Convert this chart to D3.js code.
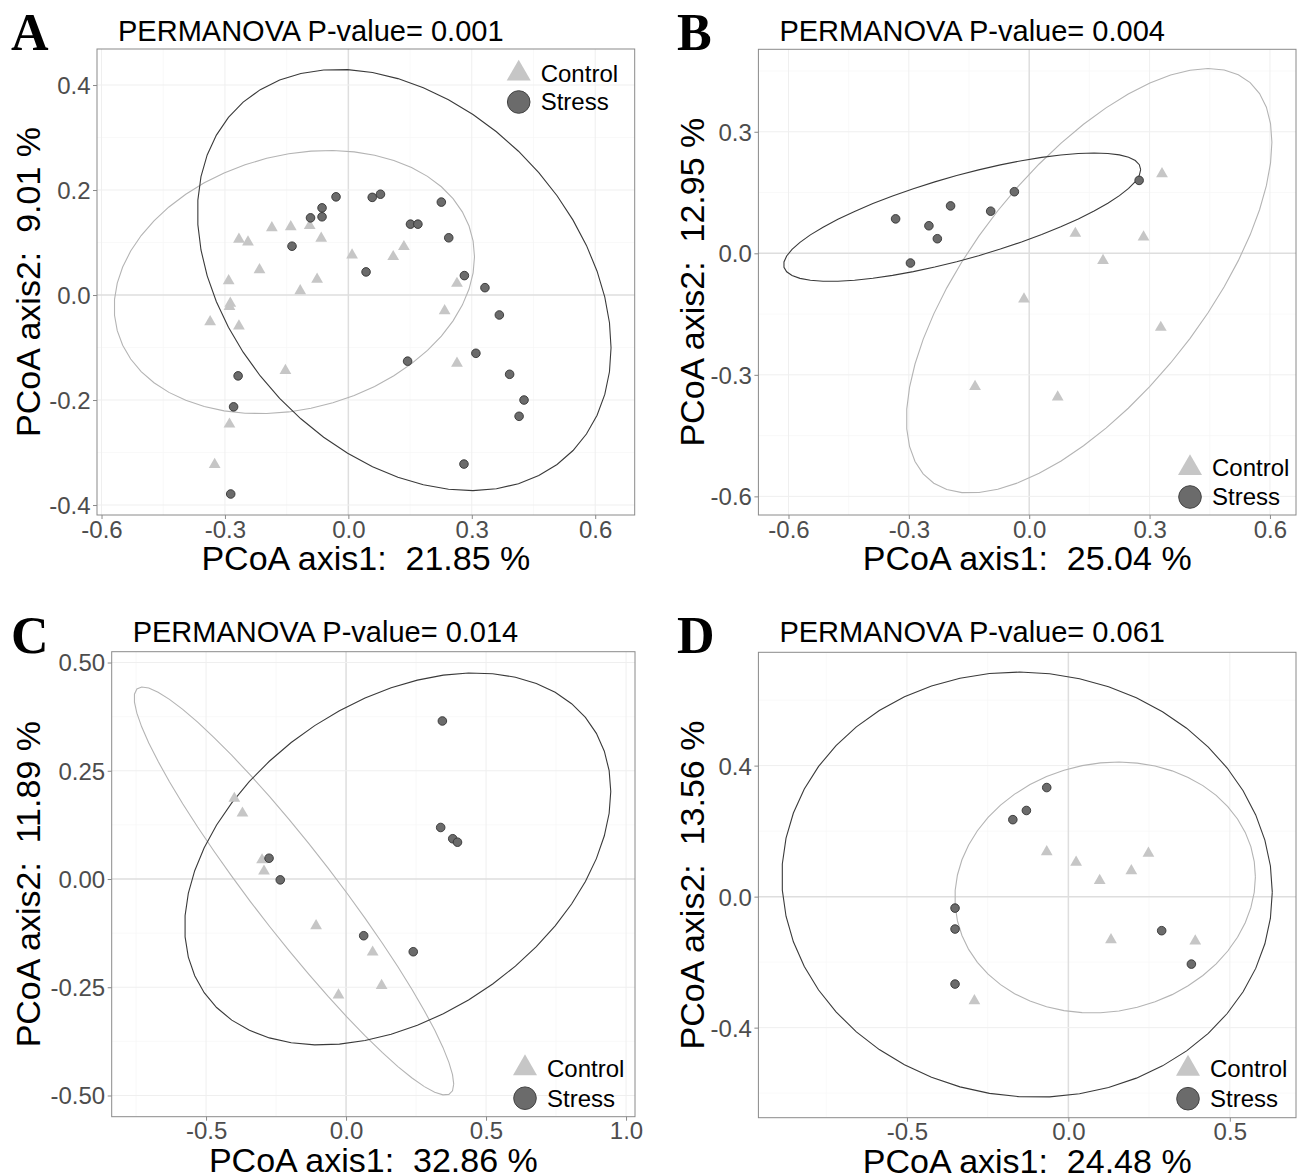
<!DOCTYPE html>
<html>
<head>
<meta charset="utf-8">
<script src="https://cdn.jsdelivr.net/npm/d3@7"></script>
<style>
    body { margin: 0; background: #fff; }
    svg { display: block; font-family: "Liberation Sans", Arial, sans-serif; }
    text { white-space: pre; }
</style>
</head>
<body>
<svg id="chart" width="1299" height="1176"></svg>
<script>
// PCoA coordinates: [axis1, axis2]
const controlA = [[-0.186, 0.128], [-0.140, 0.130], [-0.094, 0.132], [-0.066, 0.108], [-0.266, 0.106],
    [-0.244, 0.101], [0.009, 0.076], [-0.216, 0.048], [-0.291, 0.027], [-0.076, 0.030], [-0.117, 0.008],
    [-0.287, -0.016], [-0.289, -0.022], [-0.336, -0.051], [-0.266, -0.059], [-0.153, -0.144],
    [-0.289, -0.246], [-0.325, -0.323], [0.135, 0.092], [0.109, 0.073], [0.264, 0.022],
    [0.234, -0.030], [0.264, -0.130]];
const stressA = [[-0.030, 0.187], [-0.064, 0.166], [-0.064, 0.149], [-0.092, 0.147], [-0.137, 0.093],
    [0.043, 0.044], [-0.268, -0.154], [-0.279, -0.213], [-0.286, -0.379], [0.058, 0.186], [0.078, 0.192],
    [0.226, 0.177], [0.151, 0.135], [0.169, 0.135], [0.244, 0.109], [0.282, 0.037], [0.332, 0.014],
    [0.367, -0.038], [0.310, -0.111], [0.144, -0.126], [0.392, -0.151], [0.427, -0.200],
    [0.415, -0.231], [0.281, -0.322]];

const controlB = [[0.331, 0.196], [0.115, 0.049], [0.285, 0.040], [0.184, -0.018], [-0.013, -0.113],
    [0.328, -0.183], [-0.135, -0.329], [0.071, -0.355]];
const stressB = [[-0.333, 0.085], [-0.250, 0.068], [-0.229, 0.036], [-0.196, 0.117], [-0.296, -0.024],
    [-0.096, 0.104], [-0.037, 0.152], [0.274, 0.180]];

const controlC = [[-0.399, 0.186], [-0.370, 0.152], [-0.300, 0.044], [-0.293, 0.018], [-0.107, -0.108],
    [-0.027, -0.268], [0.095, -0.169], [0.127, -0.246]];
const stressC = [[-0.275, 0.048], [-0.235, -0.002], [0.063, -0.131], [0.240, -0.168], [0.344, 0.365],
    [0.338, 0.119], [0.381, 0.093], [0.398, 0.085]];

const controlD = [[-0.067, 0.137], [0.024, 0.105], [0.097, 0.049], [0.195, 0.079], [0.248, 0.132],
    [0.132, -0.132], [0.393, -0.136], [-0.291, -0.318]];
const stressD = [[-0.067, 0.333], [-0.130, 0.263], [-0.172, 0.235], [-0.351, -0.035], [-0.351, -0.099],
    [-0.351, -0.267], [0.289, -0.104], [0.381, -0.206]];

const pValues = ['0.001', '0.004', '0.014', '0.061'];
const axis1Pct = ['21.85', '25.04', '32.86', '24.48'];
const axis2Pct = ['9.01', '12.95', '11.89', '13.56'];
const groups = ['Control', 'Stress'];

// axis ranges and breaks
const xDomains = [[-0.611, 0.696], [-0.675, 0.665], [-0.837, 1.032], [-0.960, 0.705]];
const yDomains = [[-0.419, 0.4686], [-0.646, 0.5036], [-0.549, 0.525], [-0.675, 0.746]];
const xTicks = [[-0.6, -0.3, 0, 0.3, 0.6], [-0.6, -0.3, 0, 0.3, 0.6], [-0.5, 0, 0.5, 1.0], [-0.5, 0, 0.5]];
const yTicks = [[-0.4, -0.2, 0, 0.2, 0.4], [-0.6, -0.3, 0, 0.3], [-0.5, -0.25, 0, 0.25, 0.5], [-0.4, 0, 0.4]];
const xTickLabels = [['-0.6', '-0.3', '0.0', '0.3', '0.6'], ['-0.6', '-0.3', '0.0', '0.3', '0.6'],
    ['-0.5', '0.0', '0.5', '1.0'], ['-0.5', '0.0', '0.5']];
const yTickLabels = [['-0.4', '-0.2', '0.0', '0.2', '0.4'], ['-0.6', '-0.3', '0.0', '0.3'],
    ['-0.50', '-0.25', '0.00', '0.25', '0.50'], ['-0.4', '0.0', '0.4']];

// panel boxes in pixels
const panels = [
    { letter: 'A', control: controlA, stress: stressA, left: 97, right: 634.7, top: 49, bottom: 515,
      letterX: 11, titleY: 41, yTitleX: 40, legend: { dx: -116, rows: [24.5, 53], fromTop: true } },
    { letter: 'B', control: controlB, stress: stressB, left: 758.4, right: 1296, top: 49.3, bottom: 515,
      letterX: 677, titleY: 41, yTitleX: 704, legend: { dx: -106, rows: [-47, -18], fromTop: false } },
    { letter: 'C', control: controlC, stress: stressC, left: 111.7, right: 635, top: 651.7, bottom: 1116.7,
      letterX: 11, titleY: 642, yTitleX: 40, legend: { dx: -110, rows: [-48.5, -18.5], fromTop: false } },
    { letter: 'D', control: controlD, stress: stressD, left: 758.4, right: 1296, top: 652.3, bottom: 1117.7,
      letterX: 677, titleY: 642, yTitleX: 704, legend: { dx: -108, rows: [-49, -19], fromTop: false } }
];

const controlFill = '#c6c6c6';
const stressFill = '#6b6b6b';

// t-distribution robust covariance, same as MASS::cov.trob
function covTrob(pts, nu = 5, maxit = 25, tol = 0.01) {
    const n = pts.length;
    let loc = [d3.mean(pts, d => d[0]), d3.mean(pts, d => d[1])];
    let w = pts.map(() => 1);
    let X = [];
    for (let iter = 0; iter < maxit; iter++) {
        const w0 = w.slice();
        X = pts.map(d => [d[0] - loc[0], d[1] - loc[1]]);
        const sw = d3.sum(w);
        let a = 0, b = 0, c = 0;
        X.forEach((v, i) => {
            a += w[i] / sw * v[0] * v[0];
            b += w[i] / sw * v[0] * v[1];
            c += w[i] / sw * v[1] * v[1];
        });
        const det = a * c - b * b;
        const Q = X.map(v => (c * v[0] * v[0] - 2 * b * v[0] * v[1] + a * v[1] * v[1]) / det);
        w = Q.map(q => (nu + 2) / (nu + q));
        const sw2 = d3.sum(w);
        loc = [d3.sum(pts, (d, i) => w[i] * d[0]) / sw2, d3.sum(pts, (d, i) => w[i] * d[1]) / sw2];
        if (w.every((v, i) => Math.abs(v - w0[i]) < tol)) break;
    }
    let a = 0, b = 0, c = 0;
    X.forEach((v, i) => {
        a += w[i] * v[0] * v[0];
        b += w[i] * v[0] * v[1];
        c += w[i] * v[1] * v[1];
    });
    return { center: loc, cov: [a / n, b / n, c / n] };
}

// 95% ellipse like ggplot2::stat_ellipse (type = "t")
function ellipsePoints(pts, level = 0.95, segments = 51) {
    const { center, cov } = covTrob(pts);
    const dfd = pts.length - 1;
    const qf = (dfd / 2) * (Math.pow(1 - level, -2 / dfd) - 1);
    const radius = Math.sqrt(2 * qf);
    const r11 = Math.sqrt(cov[0]);
    const r12 = cov[1] / r11;
    const r22 = Math.sqrt(cov[2] - r12 * r12);
    return d3.range(segments + 1).map(i => {
        const t = i * 2 * Math.PI / segments;
        return [center[0] + radius * Math.cos(t) * r11,
                center[1] + radius * (Math.cos(t) * r12 + Math.sin(t) * r22)];
    });
}

const svg = d3.select('#chart');

panels.forEach((p, k) => {
    const x = d3.scaleLinear().domain(xDomains[k]).range([p.left, p.right]);
    const y = d3.scaleLinear().domain(yDomains[k]).range([p.bottom, p.top]);
    const g = svg.append('g');

    const clipId = 'clip' + k;
    g.append('clipPath').attr('id', clipId)
        .append('rect')
        .attr('x', p.left).attr('y', p.top)
        .attr('width', p.right - p.left).attr('height', p.bottom - p.top);

    // minor grid halfway between breaks
    const xt = xTicks[k], yt = yTicks[k];
    const xStep = xt[1] - xt[0], yStep = yt[1] - yt[0];
    const xMinor = d3.range(xt[0] - xStep / 2, xDomains[k][1], xStep).filter(v => v > xDomains[k][0]);
    const yMinor = d3.range(yt[0] - yStep / 2, yDomains[k][1], yStep).filter(v => v > yDomains[k][0]);

    g.selectAll('.xminor').data(xMinor).enter().append('line')
        .attr('x1', d => x(d)).attr('x2', d => x(d))
        .attr('y1', p.top).attr('y2', p.bottom)
        .attr('stroke', '#f6f6f6').attr('stroke-width', 0.7);
    g.selectAll('.yminor').data(yMinor).enter().append('line')
        .attr('y1', d => y(d)).attr('y2', d => y(d))
        .attr('x1', p.left).attr('x2', p.right)
        .attr('stroke', '#f6f6f6').attr('stroke-width', 0.7);

    g.selectAll('.xmajor').data(xt).enter().append('line')
        .attr('x1', d => x(d)).attr('x2', d => x(d))
        .attr('y1', p.top).attr('y2', p.bottom)
        .attr('stroke', d => d === 0 ? '#dedede' : '#efefef')
        .attr('stroke-width', d => d === 0 ? 1.5 : 1);
    g.selectAll('.ymajor').data(yt).enter().append('line')
        .attr('y1', d => y(d)).attr('y2', d => y(d))
        .attr('x1', p.left).attr('x2', p.right)
        .attr('stroke', d => d === 0 ? '#dedede' : '#efefef')
        .attr('stroke-width', d => d === 0 ? 1.5 : 1);

    // ellipses
    const line = d3.line().x(d => x(d[0])).y(d => y(d[1]));
    g.append('path')
        .attr('clip-path', `url(#${clipId})`)
        .attr('d', line(ellipsePoints(p.control)))
        .attr('fill', 'none').attr('stroke', '#b4b4b4').attr('stroke-width', 1.1);
    g.append('path')
        .attr('clip-path', `url(#${clipId})`)
        .attr('d', line(ellipsePoints(p.stress)))
        .attr('fill', 'none').attr('stroke', '#3a3a3a').attr('stroke-width', 1.1);

    // points
    const tri = d3.symbol().type(d3.symbolTriangle).size(60);
    g.selectAll('.ctrl').data(p.control).enter().append('path')
        .attr('d', tri)
        .attr('transform', d => `translate(${x(d[0])},${y(d[1])})`)
        .attr('fill', controlFill);
    g.selectAll('.str').data(p.stress).enter().append('circle')
        .attr('cx', d => x(d[0])).attr('cy', d => y(d[1]))
        .attr('r', 4.3)
        .attr('fill', stressFill).attr('stroke', '#333').attr('stroke-width', 0.9);

    // panel border
    g.append('rect')
        .attr('x', p.left).attr('y', p.top)
        .attr('width', p.right - p.left).attr('height', p.bottom - p.top)
        .attr('fill', 'none').attr('stroke', '#8a8a8a').attr('stroke-width', 1);

    // axes
    const xAxis = d3.axisBottom(x).tickValues(xt).tickSize(4).tickPadding(3)
        .tickFormat((d, i) => xTickLabels[k][i]);
    const yAxis = d3.axisLeft(y).tickValues(yt).tickSize(4).tickPadding(3)
        .tickFormat((d, i) => yTickLabels[k][i]);

    const gx = g.append('g').attr('transform', `translate(0,${p.bottom})`).call(xAxis);
    const gy = g.append('g').attr('transform', `translate(${p.left},0)`).call(yAxis);
    [gx, gy].forEach(a => {
        a.select('.domain').remove();
        a.selectAll('line').attr('stroke', '#8a8a8a');
        a.selectAll('text').attr('fill', '#4d4d4d')
            .style('font-size', '24px').style('font-family', '"Liberation Sans", Arial, sans-serif');
    });
    gx.selectAll('text').attr('dy', null).attr('y', 22.5);
    gy.selectAll('text').attr('dy', '0.35em').attr('x', -6.5);

    // titles
    g.append('text')
        .attr('x', p.left + 21).attr('y', p.titleY)
        .style('font-size', '29px').attr('fill', '#000')
        .text(`PERMANOVA P-value= ${pValues[k]}`);
    g.append('text')
        .attr('x', (p.left + p.right) / 2).attr('y', p.bottom + 55)
        .attr('text-anchor', 'middle')
        .style('font-size', '34px').attr('fill', '#000')
        .text(`PCoA axis1:  ${axis1Pct[k]} %`);
    g.append('text')
        .attr('transform', `translate(${p.yTitleX},${(p.top + p.bottom) / 2}) rotate(-90)`)
        .attr('text-anchor', 'middle')
        .style('font-size', '34px').attr('fill', '#000')
        .text(`PCoA axis2:  ${axis2Pct[k]} %`);
    g.append('text')
        .attr('x', p.letterX).attr('y', p.top + 1)
        .style('font-family', '"Liberation Serif", "Times New Roman", serif')
        .style('font-weight', 'bold').style('font-size', '52px')
        .text(p.letter);

    // legend
    const lx = p.right + p.legend.dx;
    const ly = p.legend.rows.map(r => (p.legend.fromTop ? p.top : p.bottom) + r);
    const leg = g.append('g');
    leg.append('path')
        .attr('d', d3.symbol().type(d3.symbolTriangle).size(250))
        .attr('transform', `translate(${lx},${ly[0]})`)
        .attr('fill', controlFill);
    leg.append('circle')
        .attr('cx', lx).attr('cy', ly[1]).attr('r', 11.3)
        .attr('fill', stressFill).attr('stroke', '#444').attr('stroke-width', 1);
    leg.selectAll('.lab').data(groups).enter().append('text')
        .attr('x', lx + 22).attr('y', (d, i) => ly[i]).attr('dy', '0.35em')
        .style('font-size', '24px').attr('fill', '#000')
        .text(d => d);
});
</script>
</body>
</html>
